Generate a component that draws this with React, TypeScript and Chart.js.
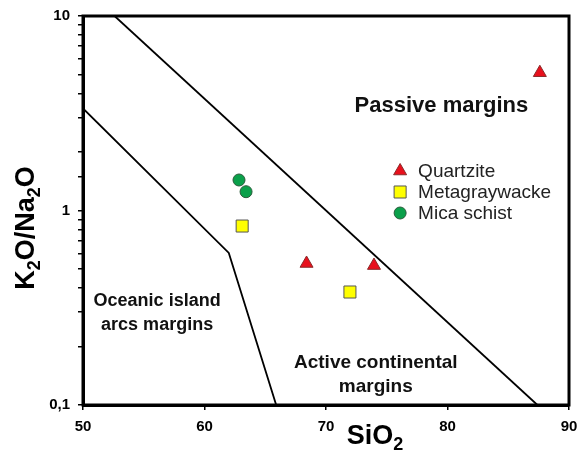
import React, { useEffect, useRef } from "react";
import { Chart, registerables } from "chart.js";

Chart.register(...registerables);

const quartziteX = [87.6, 68.4, 73.95];
const quartziteY = [5.11, 0.534, 0.521];
const metagraywackeX = [63.1, 71.97];
const metagraywackeY = [0.832, 0.381];
const micaSchistX = [62.84, 63.42];
const micaSchistY = [1.435, 1.249];

const boundary1X = [50, 62, 65.9];
const boundary1Y = [3.35, 0.605, 0.1];
const boundary2X = [52.6, 87.4];
const boundary2Y = [10, 0.1];

const xTicks = [50, 60, 70, 80, 90];
const yTickLabels: Record<string, string> = { "10": "10", "1": "1", "0.1": "0,1" };

const regionLabels = [
  { lines: ["Passive margins"], x: 79.5, y: 3.45, size: 22 },
  { lines: ["Oceanic island", "arcs margins"], x: 56.1, y: 0.343, size: 18 },
  { lines: ["Active continental", "margins"], x: 74.1, y: 0.165, size: 19 },
];

const zip = (xs: number[], ys: number[]) => xs.map((x, i) => ({ x, y: ys[i] }));

const FONT = "'Liberation Sans', Arial, sans-serif";

function drawSubText(
  ctx: CanvasRenderingContext2D,
  parts: [string, boolean][],
  cx: number,
  cy: number,
  size: number
) {
  const main = `bold ${size}px ${FONT}`;
  const sub = `bold ${Math.round(size * 0.65)}px ${FONT}`;
  let total = 0;
  const widths = parts.map(([t, s]) => {
    ctx.font = s ? sub : main;
    const w = ctx.measureText(t).width;
    total += w;
    return w;
  });
  let x = cx - total / 2;
  ctx.textAlign = "left";
  ctx.textBaseline = "middle";
  parts.forEach(([t, s], i) => {
    ctx.font = s ? sub : main;
    ctx.fillText(t, x, s ? cy + size * 0.3 : cy);
    x += widths[i];
  });
}

function drawMarker(ctx: CanvasRenderingContext2D, style: string, r: number, x: number, y: number) {
  ctx.beginPath();
  if (style === "triangle") {
    ctx.moveTo(x, y - r);
    ctx.lineTo(x + r * Math.cos(Math.PI / 6), y + r * 0.5);
    ctx.lineTo(x - r * Math.cos(Math.PI / 6), y + r * 0.5);
    ctx.closePath();
  } else if (style === "rect") {
    const s = r * Math.SQRT1_2;
    ctx.rect(x - s, y - s, 2 * s, 2 * s);
  } else {
    ctx.arc(x, y, r, 0, Math.PI * 2);
  }
  ctx.fill();
  ctx.stroke();
}

const overlayPlugin = {
  id: "overlay",
  afterDatasetsDraw(chart: any) {
    const { ctx, chartArea, scales } = chart;
    ctx.save();
    ctx.strokeStyle = "#000";
    ctx.lineWidth = 3;
    ctx.strokeRect(chartArea.left, chartArea.top, chartArea.right - chartArea.left, chartArea.bottom - chartArea.top);

    ctx.fillStyle = "#111";
    ctx.textAlign = "center";
    ctx.textBaseline = "middle";
    regionLabels.forEach((r) => {
      ctx.font = `bold ${r.size}px ${FONT}`;
      const px = scales.x.getPixelForValue(r.x);
      const py = scales.y.getPixelForValue(r.y);
      r.lines.forEach((l, i) => ctx.fillText(l, px, py + i * 24));
    });

    const pts = chart.data.datasets.filter((d: any) => d.isSample);
    const lx = scales.x.getPixelForValue(76.1);
    let ly = 171;
    pts.forEach((d: any) => {
      ctx.save();
      ctx.fillStyle = d.backgroundColor;
      ctx.strokeStyle = d.borderColor;
      ctx.lineWidth = d.borderWidth;
      drawMarker(ctx, d.pointStyle, d.pointRadius, lx, ly);
      ctx.restore();
      ctx.fillStyle = "#222";
      ctx.font = `19px ${FONT}`;
      ctx.textAlign = "left";
      ctx.textBaseline = "middle";
      ctx.fillText(d.label, lx + 18, ly + 1);
      ly += 21;
    });

    ctx.fillStyle = "#000";
    drawSubText(ctx, [["SiO", false], ["2", true]], 375, 437, 27);
    ctx.save();
    ctx.translate(27, 228);
    ctx.rotate(-Math.PI / 2);
    drawSubText(ctx, [["K", false], ["2", true], ["O/Na", false], ["2", true], ["O", false]], 0, 0, 27);
    ctx.restore();
    ctx.restore();
  },
};

export default function App() {
  const ref = useRef<HTMLCanvasElement>(null);
  useEffect(() => {
    if (!ref.current) return;
    const lineDs = (xs: number[], ys: number[]) => ({
      type: "line" as const,
      data: zip(xs, ys),
      borderColor: "#000",
      borderWidth: 1.8,
      pointRadius: 0,
      showLine: true,
      fill: false,
      tension: 0,
      isSample: false,
    });
    const chart = new Chart(ref.current, {
      type: "scatter",
      data: {
        datasets: [
          lineDs(boundary1X, boundary1Y),
          lineDs(boundary2X, boundary2Y),
          {
            label: "Quartzite",
            data: zip(quartziteX, quartziteY),
            pointStyle: "triangle",
            pointRadius: 7.5,
            backgroundColor: "#e8101c",
            borderColor: "#8a2a2a",
            borderWidth: 1,
            isSample: true,
          } as any,
          {
            label: "Metagraywacke",
            data: zip(metagraywackeX, metagraywackeY),
            pointStyle: "rect",
            pointRadius: 8.5,
            backgroundColor: "#ffff00",
            borderColor: "#555",
            borderWidth: 1,
            isSample: true,
          } as any,
          {
            label: "Mica schist",
            data: zip(micaSchistX, micaSchistY),
            pointStyle: "circle",
            pointRadius: 6,
            backgroundColor: "#0aa04a",
            borderColor: "#2a5a3a",
            borderWidth: 1,
            isSample: true,
          } as any,
        ] as any,
      },
      options: {
        animation: false,
        responsive: false,
        devicePixelRatio: 1,
        layout: { padding: { top: 16, right: 10, left: 0, bottom: 0 } },
        plugins: { legend: { display: false }, tooltip: { enabled: false } },
        scales: {
          x: {
            type: "linear",
            min: 50,
            max: 90,
            afterBuildTicks: (s: any) => {
              s.ticks = xTicks.map((v) => ({ value: v }));
            },
            ticks: { font: { family: FONT, size: 15, weight: "bold" }, color: "#000", padding: 8 },
            grid: { drawOnChartArea: false, tickLength: 5, color: "#000", lineWidth: 1.5 },
            border: { display: true, color: "#000", width: 3 },
            afterFit: (s: any) => {
              s.height = 48;
              s.paddingRight = 0;
              s.paddingLeft = 0;
            },
          },
          y: {
            type: "logarithmic",
            min: 0.1,
            max: 10,
            ticks: {
              autoSkip: false,
              font: { family: FONT, size: 15, weight: "bold" },
              color: "#000",
              padding: 8,
              callback: (v: any) => {
                const key = String(Number(Number(v).toPrecision(6)));
                return yTickLabels[key] ?? "";
              },
            },
            grid: { drawOnChartArea: false, tickLength: 5, color: "#000", lineWidth: 1.5 },
            border: { display: true, color: "#000", width: 3 },
            afterFit: (s: any) => {
              s.width = 83;
              s.paddingTop = 0;
              s.paddingBottom = 0;
            },
          },
        },
      } as any,
      plugins: [overlayPlugin],
    });
    return () => chart.destroy();
  }, []);
  return (
    <div style={{ position: "absolute", left: 0, top: 0, width: 579, height: 453, background: "#fff" }}>
      <canvas ref={ref} width={579} height={453} />
    </div>
  );
}
